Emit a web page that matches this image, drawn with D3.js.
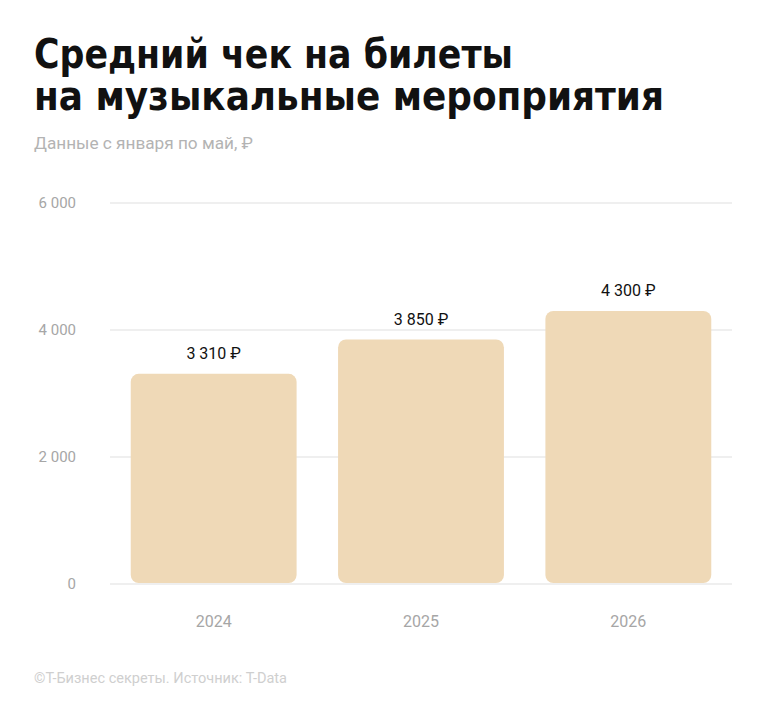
<!DOCTYPE html>
<html><head><meta charset="utf-8">
<script src="https://cdn.jsdelivr.net/npm/d3@7"></script>
<style>body{margin:0;background:#fff}</style>
</head><body>
<svg id="c" width="764" height="721"></svg>
<script>
const categories = ["2024", "2025", "2026"];
const values = [3310, 3850, 4300];
const valueLabels = ["3 310 ₽", "3 850 ₽", "4 300 ₽"];
const yTicks = [0, 2000, 4000, 6000];
const yTickLabels = ["0", "2 000", "4 000", "6 000"];
const title = ["Средний чек на билеты", "на музыкальные мероприятия"];
const subtitle = "Данные с января по май, ₽";
const footer = "©Т-Бизнес секреты. Источник: T-Data";

const svg = d3.select("#c");
svg.append("rect").attr("width",764).attr("height",721).attr("fill","#fff");

const x = d3.scaleBand().domain(categories).range([110, 732]).paddingInner(0.2).paddingOuter(0.1);
const y = d3.scaleLinear().domain([0, 6000]).range([584, 203]);

// title
const tl = [479, 630];
title.forEach((t,i)=>{
  svg.append("text").attr("x",34).attr("y",68+i*42)
    .attr("font-family","'DejaVu Sans Condensed','DejaVu Sans',sans-serif")
    .attr("font-weight","bold").attr("font-size",41).attr("fill","#111")
    .attr("textLength",tl[i]).attr("lengthAdjust","spacingAndGlyphs").text(t);
});
svg.append("text").attr("x",34).attr("y",149).attr("font-family","Roboto, sans-serif")
  .attr("font-size",16).attr("fill","#b3b3b3").attr("textLength",219).attr("lengthAdjust","spacingAndGlyphs").text(subtitle);

// grid
const g = svg.append("g");
g.selectAll("line.grid").data(yTicks).join("line")
  .attr("x1",110).attr("x2",732).attr("y1",d=>y(d)).attr("y2",d=>y(d))
  .attr("stroke","#efefef").attr("stroke-width",2);
g.selectAll("text.yl").data(yTicks).join("text")
  .attr("x",76).attr("y",d=>y(d)+5).attr("text-anchor","end")
  .attr("font-family","Roboto, sans-serif").attr("font-size",15).attr("fill","#a6a6a6")
  .text((d,i)=>yTickLabels[i]);

// bars
g.selectAll("rect.bar").data(values).join("rect")
  .attr("x",(d,i)=>x(categories[i])).attr("width",x.bandwidth())
  .attr("y",d=>y(d)).attr("height",d=>y(0)-y(d)-1)
  .attr("rx",8).attr("ry",8).attr("fill","#efd9b7");

g.selectAll("text.vl").data(values).join("text")
  .attr("x",(d,i)=>x(categories[i])+x.bandwidth()/2).attr("y",d=>y(d)-15)
  .attr("text-anchor","middle").attr("font-family","Roboto, sans-serif")
  .attr("font-size",16).attr("fill","#111").text((d,i)=>valueLabels[i]);

g.selectAll("text.xl").data(categories).join("text")
  .attr("x",d=>x(d)+x.bandwidth()/2).attr("y",627).attr("text-anchor","middle")
  .attr("font-family","Roboto, sans-serif").attr("font-size",16).attr("fill","#a6a6a6").text(d=>d);

svg.append("text").attr("x",34).attr("y",683).attr("font-family","Roboto, sans-serif")
  .attr("font-size",14).attr("fill","#cfcfcf").attr("textLength",253).attr("lengthAdjust","spacingAndGlyphs").text(footer);
</script>
</body></html>
